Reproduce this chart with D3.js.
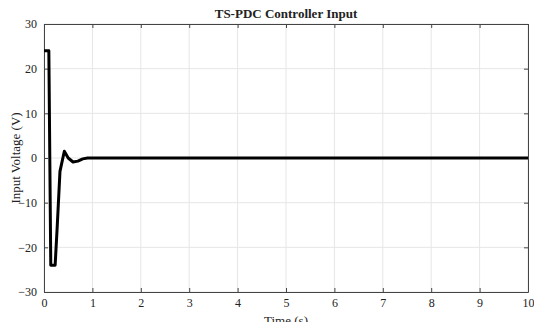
<!DOCTYPE html>
<html>
<head>
<meta charset="utf-8">
<script src="https://cdn.jsdelivr.net/npm/d3@7"></script>
<style>
body { margin: 0; background: #fff; }
text { font-family: "Liberation Serif", "Times New Roman", serif; fill: #222; }
</style>
</head>
<body>
<svg id="chart" width="534" height="322"></svg>
<script>
// controller input samples
const times = [0, 0.1, 0.14, 0.23, 0.27, 0.33, 0.42, 0.5, 0.6, 0.7, 0.8, 0.9, 1.0, 10];
const voltage = [24, 24, -24, -24, -16, -3, 1.5, 0, -0.9, -0.7, -0.2, 0, 0, 0];
const xTicks = [0, 1, 2, 3, 4, 5, 6, 7, 8, 9, 10];
const yTicks = [-30, -20, -10, 0, 10, 20, 30];

let svg = d3.select('#chart');
let margin = { top: 24, right: 6, bottom: 30, left: 44 };
let width = +svg.attr('width') - margin.left - margin.right;
let height = +svg.attr('height') - margin.top - margin.bottom;

let x = d3.scaleLinear().domain([0, 10]).range([0, width]);
let y = d3.scaleLinear().domain([-30, 30]).range([height, 0]);

let g = svg.append('g').attr('transform', 'translate(' + margin.left + ',' + margin.top + ')');

// grid
g.append('g').selectAll('line').data(xTicks).enter().append('line')
	.attr('x1', (d) => x(d)).attr('x2', (d) => x(d))
	.attr('y1', 0).attr('y2', height)
	.attr('stroke', '#e6e6e6').attr('stroke-width', 1);
g.append('g').selectAll('line').data(yTicks).enter().append('line')
	.attr('x1', 0).attr('x2', width)
	.attr('y1', (d) => y(d)).attr('y2', (d) => y(d))
	.attr('stroke', '#e6e6e6').attr('stroke-width', 1);

let styleAxis = (sel) => {
	sel.attr('font-family', null);
	sel.select('.domain').attr('stroke', '#444');
	sel.selectAll('.tick line').attr('stroke', '#444');
	sel.selectAll('.tick text').attr('font-size', 12).attr('fill', '#222')
		.style('font-family', '"Liberation Serif", serif');
};

g.append('g')
	.attr('transform', 'translate(0,' + height + ')')
	.call(d3.axisBottom(x).tickValues(xTicks).tickSize(-4).tickSizeOuter(0).tickPadding(6))
	.call(styleAxis);
g.append('g')
	.call(d3.axisTop(x).tickValues(xTicks).tickSize(-4).tickSizeOuter(0).tickFormat(''))
	.call(styleAxis);
g.append('g')
	.call(d3.axisLeft(y).tickValues(yTicks).tickSize(-4).tickSizeOuter(0).tickPadding(7))
	.call(styleAxis);
g.append('g')
	.attr('transform', 'translate(' + width + ',0)')
	.call(d3.axisRight(y).tickValues(yTicks).tickSize(-4).tickSizeOuter(0).tickFormat(''))
	.call(styleAxis);

// signal
let line = d3.line()
	.x((d, i) => x(times[i]))
	.y((d) => y(d));

g.append('path')
	.datum(voltage)
	.attr('fill', 'none')
	.attr('stroke', '#000')
	.attr('stroke-width', 3)
	.attr('stroke-linejoin', 'round')
	.attr('d', line);

// labels
svg.append('text')
	.attr('x', margin.left + width / 2).attr('y', 18)
	.attr('text-anchor', 'middle')
	.attr('font-size', 13).attr('font-weight', 'bold')
	.text('TS-PDC Controller Input');

svg.append('text')
	.attr('x', margin.left + width / 2).attr('y', 325)
	.attr('text-anchor', 'middle')
	.attr('font-size', 13)
	.text('Time (s)');

svg.append('text')
	.attr('transform', 'translate(20,' + (margin.top + height / 2) + ') rotate(-90)')
	.attr('text-anchor', 'middle')
	.attr('font-size', 13)
	.text('Input Voltage (V)');
</script>
</body>
</html>
